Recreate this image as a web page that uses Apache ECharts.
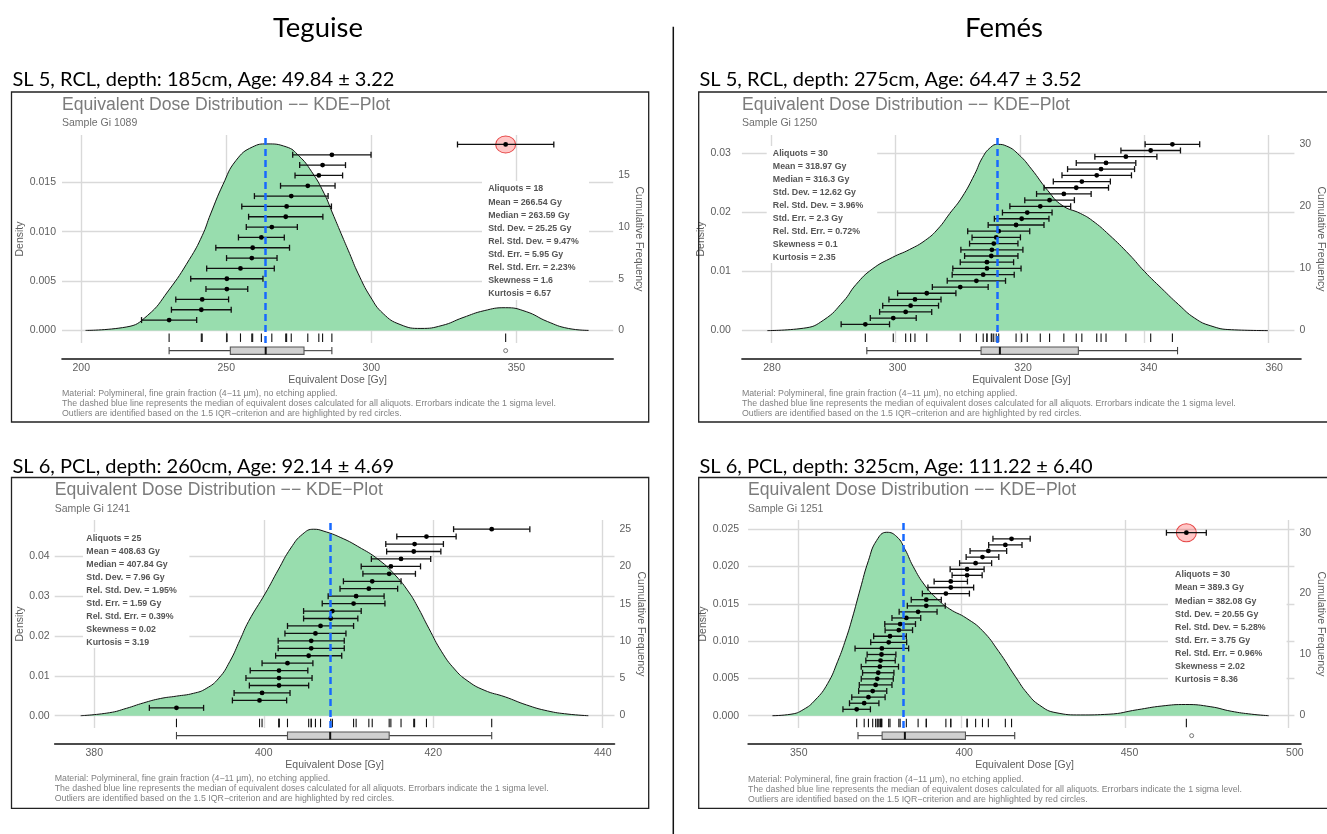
<!DOCTYPE html>
<html>
<head>
<meta charset="utf-8">
<script src="https://cdn.jsdelivr.net/npm/echarts@6/dist/echarts.min.js"></script>
<style>
  html, body { margin: 0; padding: 0; background: #ffffff; }
  #chart { width: 1327px; height: 834px; }
</style>
</head>
<body>
<div id="chart"></div>
<script>
// ---------- Sample Gi 1089 (Teguise, SL 5) ----------
const tlDose  = [230.3, 241.4, 241.7, 250.2, 250.2, 254.9, 258.8, 259.1, 262.1, 265.7, 270.5, 270.8, 272.4, 278.1, 281.9, 283.2, 286.4, 346.3];
const tlSigma = [9.5, 10.3, 9.1, 7.2, 12.45, 11.65, 8.7, 12.7, 7.9, 8.8, 12.8, 15.45, 12.7, 9.4, 8.2, 7.9, 13.5, 16.6];
const tlKdeDose    = [201.5, 215.5, 222.8, 230.0, 237.3, 241.7, 244.6, 248.9, 253.3, 259.1, 264.0, 270.7, 275.0, 279.4, 283.7, 286.6, 289.6, 292.5, 295.4, 299.7, 304.1, 309.9, 317.1, 324.4, 331.6, 338.9, 346.2, 353.4, 360.7, 367.9, 374.9];
const tlKdeDensity = [0, 0.00034, 0.0015, 0.0040, 0.0072, 0.0096, 0.0118, 0.0148, 0.0172, 0.0186, 0.0189, 0.0186, 0.0177, 0.0161, 0.0139, 0.0119, 0.0098, 0.0078, 0.0058, 0.0034, 0.0017, 0.0006, 0.0002, 0.0005, 0.0013, 0.0020, 0.0023, 0.0019, 0.0009, 0.0002, 0];
const tlBox = [230.3, 251.4, 263.59, 276.8, 286.4];
const tlMedian = 263.59;
const tlStats = ['Aliquots = 18', 'Mean = 266.54 Gy', 'Median = 263.59 Gy', 'Std. Dev. = 25.25 Gy', 'Rel. Std. Dev. = 9.47%', 'Std. Err. = 5.95 Gy', 'Rel. Std. Err. = 2.23%', 'Skewness = 1.6', 'Kurtosis = 6.57'];
const tlDoseTicks = [200, 250, 300, 350];
const tlDensityTicks = [0, 0.005, 0.01, 0.015];
const tlFreqTicks = [0, 5, 10, 15];

// ---------- Sample Gi 1250 (Femés, SL 5) ----------
const trDose  = [295.1, 299.6, 301.6, 302.4, 303.1, 305.0, 310.4, 313.0, 314.1, 314.7, 314.7, 315.4, 315.5, 315.8, 316.2, 316.6, 319.4, 320.3, 321.2, 323.3, 324.8, 327.1, 329.1, 330.0, 332.4, 333.1, 333.9, 337.1, 341.1, 344.6];
const trSigma = [3.9, 3.7, 4.2, 4.5, 4.2, 4.7, 4.5, 4.7, 5.0, 5.5, 4.3, 4.3, 5.0, 3.9, 3.9, 5.0, 4.5, 4.4, 4.0, 4.9, 4.0, 4.4, 5.2, 4.6, 5.6, 5.4, 4.8, 5.0, 4.8, 4.4];
const trKdeDose    = [279.3, 285.1, 288.4, 291.6, 293.6, 296.2, 299.5, 302.2, 304.8, 306.8, 308.7, 310.7, 312.7, 314.0, 315.3, 316.4, 317.9, 319.9, 321.9, 324.5, 326.8, 329.8, 331.7, 334.4, 337.7, 340.1, 342.9, 345.6, 348.2, 350.8, 354.1, 360.0];
const trKdeDensity = [0, 0.0004, 0.0018, 0.0050, 0.0078, 0.0104, 0.0124, 0.0137, 0.0153, 0.0172, 0.0198, 0.0226, 0.0264, 0.0293, 0.0310, 0.0315, 0.0312, 0.0297, 0.0273, 0.0237, 0.0212, 0.0198, 0.0186, 0.0162, 0.0128, 0.0100, 0.0071, 0.0044, 0.0021, 0.0008, 0.00015, 0];
const trBox = [295.1, 313.3, 316.3, 328.8, 344.6];
const trMedian = 316.3;
const trStats = ['Aliquots = 30', 'Mean = 318.97 Gy', 'Median = 316.3 Gy', 'Std. Dev. = 12.62 Gy', 'Rel. Std. Dev. = 3.96%', 'Std. Err. = 2.3 Gy', 'Rel. Std. Err. = 0.72%', 'Skewness = 0.1', 'Kurtosis = 2.35'];
const trDoseTicks = [280, 300, 320, 340, 360];
const trDensityTicks = [0, 0.01, 0.02, 0.03];
const trFreqTicks = [0, 10, 20, 30];

// ---------- Sample Gi 1241 (Teguise, SL 6) ----------
const blDose  = [389.7, 399.5, 399.8, 401.8, 401.8, 401.8, 402.8, 405.3, 405.6, 405.6, 406.1, 406.7, 407.9, 408.1, 410.6, 410.9, 412.4, 412.8, 414.8, 415.0, 416.2, 417.7, 417.8, 419.2, 426.9];
const blSigma = [3.2, 3.2, 3.3, 3.5, 3.9, 3.4, 3.0, 3.9, 3.9, 3.9, 3.6, 3.9, 3.2, 3.4, 3.7, 3.3, 3.4, 3.4, 3.1, 3.5, 3.5, 3.2, 3.4, 3.5, 4.5];
const blKdeDose    = [378.4, 381.8, 383.8, 385.8, 387.8, 389.7, 391.7, 393.2, 394.7, 396.0, 397.2, 398.2, 400.2, 401.7, 403.2, 404.6, 405.9, 407.1, 409.1, 411.1, 413.6, 415.6, 417.1, 418.1, 419.5, 421.0, 422.5, 424.0, 426.0, 428.5, 431.0, 433.5, 435.9, 438.3];
const blKdeDensity = [0, 0.00075, 0.00185, 0.0032, 0.0043, 0.0049, 0.0056, 0.0068, 0.0094, 0.0136, 0.0190, 0.0236, 0.0307, 0.0365, 0.0420, 0.0455, 0.0467, 0.0462, 0.0446, 0.0424, 0.0390, 0.0350, 0.0310, 0.0275, 0.0218, 0.0160, 0.0117, 0.0088, 0.0064, 0.0047, 0.0027, 0.0012, 0.0004, 0];
const blBox = [389.7, 402.8, 407.84, 414.8, 426.9];
const blMedian = 407.84;
const blStats = ['Aliquots = 25', 'Mean = 408.63 Gy', 'Median = 407.84 Gy', 'Std. Dev. = 7.96 Gy', 'Rel. Std. Dev. = 1.95%', 'Std. Err. = 1.59 Gy', 'Rel. Std. Err. = 0.39%', 'Skewness = 0.02', 'Kurtosis = 3.19'];
const blDoseTicks = [380, 400, 420, 440];
const blDensityTicks = [0, 0.01, 0.02, 0.03, 0.04];
const blFreqTicks = [0, 5, 10, 15, 20, 25];

// ---------- Sample Gi 1251 (Femés, SL 6) ----------
const brDose  = [367.9, 370.2, 371.5, 372.8, 373.7, 374.2, 374.5, 375.0, 375.2, 375.5, 375.6, 377.7, 378.1, 380.8, 381.2, 383.1, 386.7, 389.2, 389.2, 395.2, 396.7, 396.7, 401.7, 401.7, 404.3, 406.4, 408.2, 413.4, 415.3, 468.8];
const brSigma = [4.2, 4.5, 5.1, 4.3, 5.0, 4.9, 4.8, 5.7, 4.5, 4.4, 8.2, 5.5, 5.0, 4.2, 4.7, 4.4, 5.8, 5.8, 4.6, 7.2, 7.0, 5.1, 4.6, 5.2, 4.9, 5.0, 5.6, 5.1, 5.7, 6.1];
const brKdeDose    = [342.1, 347.8, 351.5, 355.2, 359.0, 362.1, 364.6, 366.5, 369.0, 371.5, 374.0, 377.1, 380.2, 382.7, 385.2, 388.9, 392.7, 396.4, 401.4, 406.4, 411.4, 416.4, 420.1, 423.9, 428.9, 436.4, 445.1, 453.8, 461.3, 468.6, 476.3, 482.5, 488.8, 494.0];
const brKdeDensity = [0, 0.0002, 0.0008, 0.0021, 0.0043, 0.0073, 0.0103, 0.0130, 0.0170, 0.0208, 0.0235, 0.0246, 0.0240, 0.0223, 0.0200, 0.0174, 0.0156, 0.0143, 0.0131, 0.0114, 0.0086, 0.0053, 0.0030, 0.0014, 0.0004, 0.0001, 0.0002, 0.0008, 0.0013, 0.0015, 0.0012, 0.0006, 0.0002, 0];
const brBox = [367.9, 375.2, 382.08, 400.4, 415.3];
const brMedian = 382.08;
const brStats = ['Aliquots = 30', 'Mean = 389.3 Gy', 'Median = 382.08 Gy', 'Std. Dev. = 20.55 Gy', 'Rel. Std. Dev. = 5.28%', 'Std. Err. = 3.75 Gy', 'Rel. Std. Err. = 0.96%', 'Skewness = 2.02', 'Kurtosis = 8.36'];
const brDoseTicks = [350, 400, 450, 500];
const brDensityTicks = [0, 0.005, 0.01, 0.015, 0.02, 0.025];
const brFreqTicks = [0, 10, 20, 30];

// ---------- Shared text ----------
const siteNames = ['Teguise', 'Femés'];
const panelHeaders = [
  'SL 5, RCL, depth: 185cm, Age: 49.84 ± 3.22',
  'SL 5, RCL, depth: 275cm, Age: 64.47 ± 3.52',
  'SL 6, PCL, depth: 260cm, Age: 92.14 ± 4.69',
  'SL 6, PCL, depth: 325cm, Age: 111.22 ± 6.40'
];
const sampleNames = ['Sample Gi 1089', 'Sample Gi 1250', 'Sample Gi 1241', 'Sample Gi 1251'];
const plotTitle = 'Equivalent Dose Distribution \u2212\u2212 KDE\u2212Plot';
const xAxisTitle = 'Equivalent Dose [Gy]';
const leftAxisTitle = 'Density';
const rightAxisTitle = 'Cumulative Frequency';
const footnotes = [
  'Material: Polymineral, fine grain fraction (4\u221211 \u00b5m), no etching applied.',
  'The dashed blue line represents the median of equivalent doses calculated for all aliquots. Errorbars indicate the 1 sigma level.',
  'Outliers are identified based on the 1.5 IQR\u2212criterion and are highlighted by red circles.'
];

// ---------- Styling ----------
const SANS = 'Liberation Sans, Arial, Helvetica, sans-serif';
const HEAD = 'Lato, Open Sans, sans-serif';
const GRID_COLOR = '#d9d9d9';
const LABEL_COLOR = '#5e5e5e';
const TITLE_COLOR = '#7b7b7b';
const KDE_FILL = 'rgb(152, 221, 174)';
const MEDIAN_BLUE = '#1769ff';

// ---------- Panel layout (pixel geometry and axis extents) ----------
const panels = [
  { dose: tlDose, sigma: tlSigma, kdeDose: tlKdeDose, kdeDensity: tlKdeDensity, box: tlBox, median: tlMedian,
    stats: tlStats, doseTicks: tlDoseTicks, densityTicks: tlDensityTicks, freqTicks: tlFreqTicks, digits: 3,
    header: panelHeaders[0], sample: sampleNames[0],
    L: { frame: [11.5, 92, 637.2, 330], headX: 12.5, headY: 80, titleX: 62, titleY: 105, subY: 123.3,
         left: 62, top: 135, width: 551.2, height: 208, boxRow: 15.3,
         xRange: [193.38, 383.37], dRange: [-0.001277, 0.019803], fRange: [-1.22, 18.916],
         statBox: [482, 181, 107, 119], statX: 488.2, statY: 189, statStep: 13.1,
         noteX: 62, noteY: 393.3, labelMargin: 6, nameGap: 33.5, rMargin: 5, rNameGap: 18, ring: [20, 17] } },
  { dose: trDose, sigma: trSigma, kdeDose: trKdeDose, kdeDensity: trKdeDensity, box: trBox, median: trMedian,
    stats: trStats, doseTicks: trDoseTicks, densityTicks: trDensityTicks, freqTicks: trFreqTicks, digits: 2,
    header: panelHeaders[1], sample: sampleNames[1],
    L: { frame: [698.7, 92, 700, 330], headX: 699.5, headY: 80, titleX: 741.9, titleY: 105, subY: 123.3,
         left: 741.9, top: 135, width: 559.1, height: 208, boxRow: 15.3,
         xRange: [275.2, 364.27], dRange: [-0.002097, 0.033085], fRange: [-2.014, 31.497],
         statBox: [766.7, 146, 110.5, 117], statX: 772.8, statY: 153.3, statStep: 13.0,
         noteX: 741.9, noteY: 393.3, labelMargin: 11, nameGap: 24, rMargin: 5, rNameGap: 20, ring: [20, 17] } },
  { dose: blDose, sigma: blSigma, kdeDose: blKdeDose, kdeDensity: blKdeDensity, box: blBox, median: blMedian,
    stats: blStats, doseTicks: blDoseTicks, densityTicks: blDensityTicks, freqTicks: blFreqTicks, digits: 2,
    header: panelHeaders[2], sample: sampleNames[2],
    L: { frame: [11.5, 477.5, 637.2, 330.8], headX: 12.5, headY: 466.7, titleX: 54.7, titleY: 490, subY: 509,
         left: 54.7, top: 520, width: 559.8, height: 208, boxRow: 15.3,
         xRange: [375.33, 441.39], dRange: [-0.00308, 0.04901], fRange: [-1.706, 26.23],
         statBox: [83, 532, 106.4, 116], statX: 86.3, statY: 538.3, statStep: 13.0,
         noteX: 54.7, noteY: 778.6, labelMargin: 5, nameGap: 27.5, rMargin: 5, rNameGap: 19, ring: [20, 17] } },
  { dose: brDose, sigma: brSigma, kdeDose: brKdeDose, kdeDensity: brKdeDensity, box: brBox, median: brMedian,
    stats: brStats, doseTicks: brDoseTicks, densityTicks: brDensityTicks, freqTicks: brFreqTicks, digits: 3,
    header: panelHeaders[3], sample: sampleNames[3],
    L: { frame: [698.7, 477.5, 700, 330.8], headX: 699.5, headY: 466.7, titleX: 748.1, titleY: 490, subY: 509.3,
         left: 748.1, top: 520, width: 552.9, height: 208, boxRow: 15.3,
         xRange: [334.67, 501.87], dRange: [-0.00165, 0.026247], fRange: [-2.069, 32.085],
         statBox: [1168, 569, 118.6, 116], statX: 1175.1, statY: 575, statStep: 13.05,
         noteX: 748.1, noteY: 779.6, labelMargin: 9, nameGap: 31, rMargin: 5, rNameGap: 20, ring: [20, 18] } }
];

// ---------- Item renderers ----------
function renderErrorBar(params, api) {
  const d = api.value(0), s = api.value(1), n = api.value(2);
  const c = api.coord([d, n]);
  const l = api.coord([d - s, n]);
  const r = api.coord([d + s, n]);
  const cap = 3;
  const st = { stroke: '#111', lineWidth: 1.3 };
  return { type: 'group', children: [
    { type: 'line', shape: { x1: l[0], y1: c[1], x2: r[0], y2: c[1] }, style: st },
    { type: 'line', shape: { x1: l[0], y1: c[1] - cap, x2: l[0], y2: c[1] + cap }, style: st },
    { type: 'line', shape: { x1: r[0], y1: c[1] - cap, x2: r[0], y2: c[1] + cap }, style: st },
    { type: 'circle', shape: { cx: c[0], cy: c[1], r: 2.4 }, style: { fill: '#000' } }
  ] };
}

function renderRug(params, api) {
  const p = api.coord([api.value(0), 0]);
  return { type: 'line', shape: { x1: p[0], y1: p[1] + 3, x2: p[0], y2: p[1] + 11.5 },
           style: { stroke: '#111', lineWidth: 1.1 } };
}

function renderBox(params, api) {
  const v = [0, 1, 2, 3, 4].map(i => api.coord([api.value(i), 0.5]));
  const cy = v[0][1], h = 3.7;
  const st = { stroke: '#444', lineWidth: 1.1 };
  return { type: 'group', children: [
    { type: 'line', shape: { x1: v[0][0], y1: cy, x2: v[1][0], y2: cy }, style: st },
    { type: 'line', shape: { x1: v[3][0], y1: cy, x2: v[4][0], y2: cy }, style: st },
    { type: 'line', shape: { x1: v[0][0], y1: cy - h, x2: v[0][0], y2: cy + h }, style: st },
    { type: 'line', shape: { x1: v[4][0], y1: cy - h, x2: v[4][0], y2: cy + h }, style: st },
    { type: 'rect', shape: { x: v[1][0], y: cy - h, width: v[3][0] - v[1][0], height: 2 * h },
      style: { fill: '#d0d0d0', stroke: '#555', lineWidth: 1.1 } },
    { type: 'line', shape: { x1: v[2][0], y1: cy - h, x2: v[2][0], y2: cy + h }, style: { stroke: '#111', lineWidth: 2 } }
  ] };
}

// ---------- Build option ----------
const grid = [], xAxis = [], yAxis = [], series = [], graphic = [];

function text(x, y, str, size, color, opts) {
  opts = opts || {};
  graphic.push({ type: 'text', x: x, y: y, z: 20, silent: true,
    style: { text: str, fontSize: size, fontFamily: opts.family || SANS, fontWeight: opts.weight || 'normal',
             fill: color, align: opts.align || 'left', verticalAlign: 'middle' } });
}

panels.forEach((p, k) => {
  const L = p.L;
  const gA = grid.length;
  grid.push({ left: L.left, top: L.top, width: L.width, height: L.height });
  const gB = grid.length;
  grid.push({ left: L.left, top: L.top + L.height, width: L.width, height: L.boxRow });

  const xA = xAxis.length;
  xAxis.push({ gridIndex: gA, type: 'value', min: L.xRange[0], max: L.xRange[1],
    axisLine: { show: false }, axisTick: { show: false, customValues: p.doseTicks }, axisLabel: { show: false },
    splitLine: { show: true, lineStyle: { color: GRID_COLOR, width: 1.4 } } });
  const xB = xAxis.length;
  xAxis.push({ gridIndex: gB, type: 'value', min: L.xRange[0], max: L.xRange[1],
    axisLine: { show: true, onZero: false, lineStyle: { color: '#111', width: 1.6 } },
    axisTick: { show: false, customValues: p.doseTicks },
    axisLabel: { customValues: p.doseTicks, margin: 4, color: LABEL_COLOR, fontSize: 10.5, fontFamily: SANS },
    splitLine: { show: false },
    name: xAxisTitle, nameLocation: 'middle', nameGap: 16.5,
    nameTextStyle: { color: LABEL_COLOR, fontSize: 10.5, fontFamily: SANS } });

  const yD = yAxis.length;
  yAxis.push({ gridIndex: gA, type: 'value', position: 'left', min: L.dRange[0], max: L.dRange[1],
    axisLine: { show: false }, axisTick: { show: false, customValues: p.densityTicks },
    axisLabel: { customValues: p.densityTicks, formatter: v => v.toFixed(p.digits), margin: L.labelMargin,
                 color: LABEL_COLOR, fontSize: 10.5, fontFamily: SANS },
    splitLine: { show: true, lineStyle: { color: GRID_COLOR, width: 1.4 } },
    name: leftAxisTitle, nameLocation: 'middle', nameGap: L.nameGap,
    nameTextStyle: { color: LABEL_COLOR, fontSize: 10.5, fontFamily: SANS } });
  const yF = yAxis.length;
  yAxis.push({ gridIndex: gA, type: 'value', position: 'right', min: L.fRange[0], max: L.fRange[1],
    axisLine: { show: false }, axisTick: { show: false, customValues: p.freqTicks },
    axisLabel: { customValues: p.freqTicks, margin: L.rMargin, color: LABEL_COLOR, fontSize: 10.5, fontFamily: SANS },
    splitLine: { show: false },
    name: rightAxisTitle, nameLocation: 'middle', nameRotate: -90, nameGap: L.rNameGap,
    nameTextStyle: { color: LABEL_COLOR, fontSize: 10.5, fontFamily: SANS } });
  const yB = yAxis.length;
  yAxis.push({ gridIndex: gB, type: 'value', min: 0, max: 1, show: false });

  // kernel density estimate with the median marker
  series.push({ type: 'line', xAxisIndex: xA, yAxisIndex: yD, z: 2,
    data: p.kdeDose.map((x, i) => [x, p.kdeDensity[i]]),
    smooth: 0.5, symbol: 'none', silent: true,
    lineStyle: { color: '#111', width: 1 }, areaStyle: { color: KDE_FILL, opacity: 1 },
    markLine: { silent: true, symbol: ['none', 'none'], label: { show: false },
      lineStyle: { color: MEDIAN_BLUE, width: 2.5, type: [7, 4] },
      data: [{ xAxis: p.median }] } });

  // outliers beyond the whiskers
  const outliers = [];
  p.dose.forEach((d, i) => { if (d < p.box[0] || d > p.box[4]) outliers.push([d, i + 1]); });
  series.push({ type: 'scatter', xAxisIndex: xA, yAxisIndex: yF, z: 3, silent: true,
    data: outliers, symbol: 'circle', symbolSize: L.ring,
    itemStyle: { color: 'rgba(255, 40, 40, 0.32)', borderColor: '#e02020', borderWidth: 1 } });

  // cumulative De values with 1-sigma error bars
  series.push({ type: 'custom', xAxisIndex: xA, yAxisIndex: yF, z: 4, silent: true,
    data: p.dose.map((d, i) => [d, p.sigma[i], i + 1]), encode: { x: 0, y: 2 },
    renderItem: renderErrorBar });

  // rug of individual De values
  series.push({ type: 'custom', xAxisIndex: xA, yAxisIndex: yD, z: 3, silent: true,
    data: p.dose.map(d => [d, 0]), encode: { x: 0, y: 1 }, renderItem: renderRug });

  // boxplot row
  series.push({ type: 'custom', xAxisIndex: xB, yAxisIndex: yB, z: 3, silent: true,
    data: [p.box], encode: { x: [0, 1, 2, 3, 4] }, renderItem: renderBox });
  series.push({ type: 'scatter', xAxisIndex: xB, yAxisIndex: yB, z: 4, silent: true,
    data: outliers.map(o => [o[0], 0.5]), symbol: 'circle', symbolSize: 4,
    itemStyle: { color: '#fff', borderColor: '#444', borderWidth: 0.9 } });

  // frame, statistics box and texts
  graphic.push({ type: 'rect', z: 25, silent: true,
    shape: { x: L.frame[0], y: L.frame[1], width: L.frame[2], height: L.frame[3] },
    style: { fill: 'none', stroke: '#222', lineWidth: 1.3 } });
  graphic.push({ type: 'rect', z: 1, silent: true,
    shape: { x: L.statBox[0], y: L.statBox[1], width: L.statBox[2], height: L.statBox[3] },
    style: { fill: '#ffffff' } });
  p.stats.forEach((s, i) => text(L.statX, L.statY + i * L.statStep, s, 8.8, '#555', { weight: 'bold' }));

  text(L.headX, L.headY, p.header, 20, '#000', { family: HEAD });
  text(L.titleX, L.titleY, plotTitle, 17.6, TITLE_COLOR);
  text(L.titleX, L.subY, p.sample, 10.5, '#6e6e6e');
  footnotes.forEach((s, i) => text(L.noteX, L.noteY + i * 10, s, 8.8, '#808080'));
});

// site headings and the separator between the two profiles
text(318, 28.3, siteNames[0], 27.5, '#000', { family: HEAD, align: 'center' });
text(1004, 28.3, siteNames[1], 27.5, '#000', { family: HEAD, align: 'center' });
graphic.push({ type: 'line', z: 25, silent: true, shape: { x1: 673.3, y1: 26.7, x2: 673.3, y2: 834 },
  style: { stroke: '#111', lineWidth: 1.5 } });

const chart = echarts.init(document.getElementById('chart'), null, { renderer: 'canvas' });
chart.setOption({
  animation: false,
  backgroundColor: '#ffffff',
  grid: grid, xAxis: xAxis, yAxis: yAxis, series: series, graphic: graphic
});
</script>
</body>
</html>
